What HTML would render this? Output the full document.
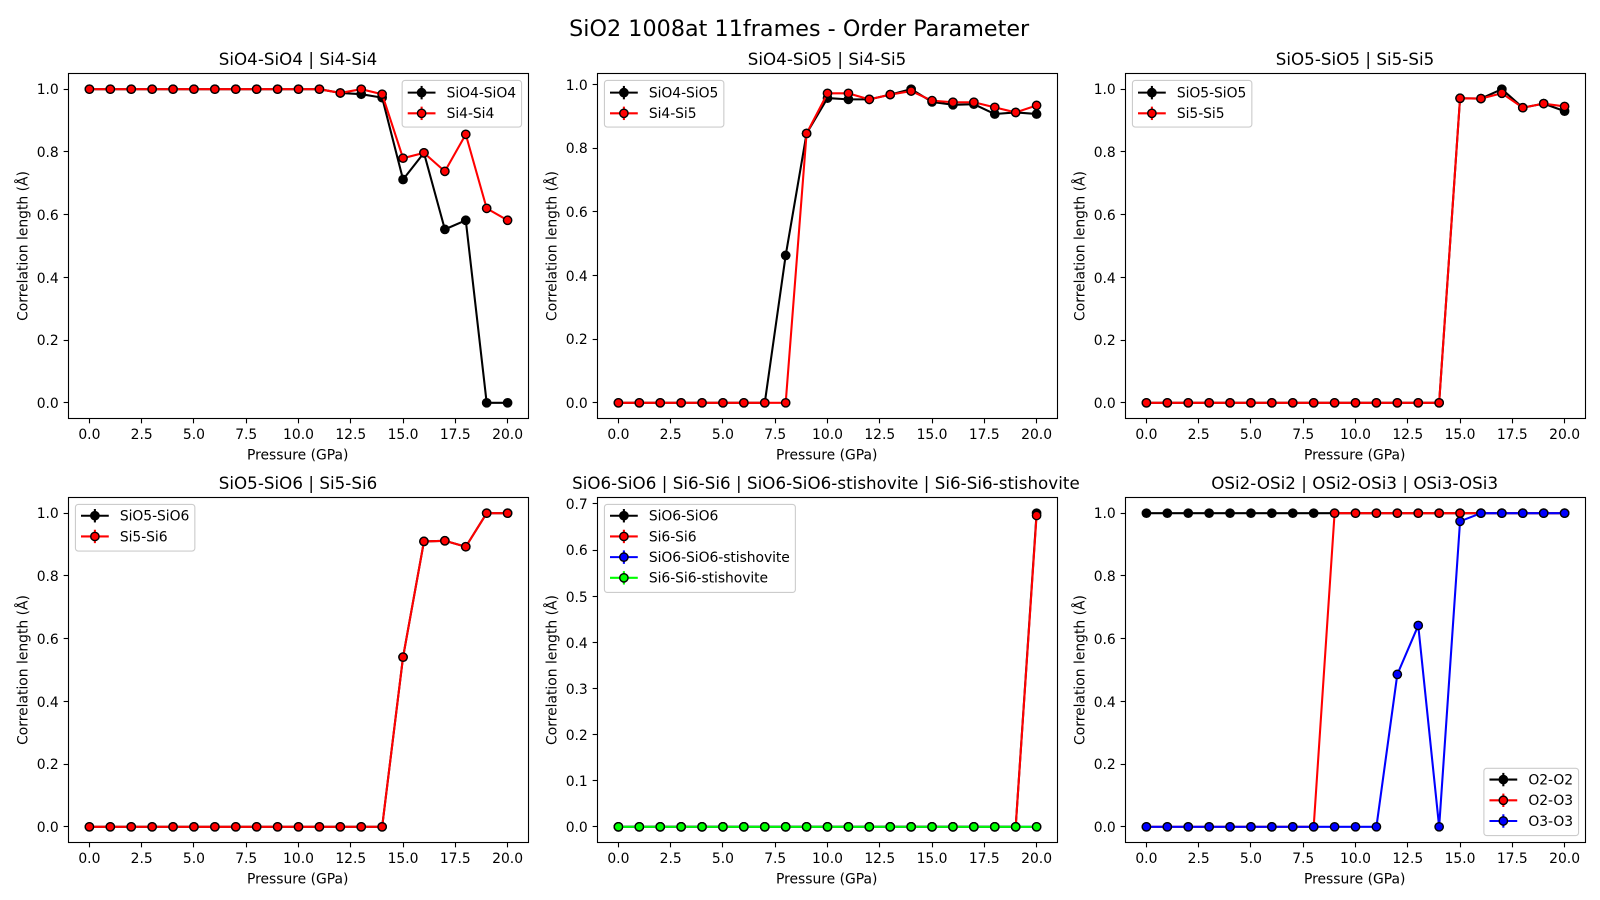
<!DOCTYPE html>
<html lang="en">
<head>
<meta charset="utf-8">
<title>SiO2 1008at 11frames - Order Parameter</title>
<style>
  html, body { margin: 0; padding: 0; background: #fff; }
  #figure { display: block; width: 1600px; height: 900px; background: #fff; }
  text { font-family: "DejaVu Sans", "Liberation Sans", sans-serif; fill: #000; }
</style>
</head>
<body>
<svg id="figure" xmlns="http://www.w3.org/2000/svg" width="1600" height="900" viewBox="0 0 1600 900">
  <text x="799.2" y="36" text-anchor="middle" font-size="22.22" letter-spacing="0.04">SiO2 1008at 11frames - Order Parameter</text>
</svg>
<script>
// ---- Shared axis data ----
const pressure = [0,1,2,3,4,5,6,7,8,9,10,11,12,13,14,15,16,17,18,19,20];
const xTicks = [0,2.5,5,7.5,10,12.5,15,17.5,20];
const xTickLabels = ['0.0','2.5','5.0','7.5','10.0','12.5','15.0','17.5','20.0'];
const yTicksUnit = [0,0.2,0.4,0.6,0.8,1.0];
const yTickLabelsUnit = ['0.0','0.2','0.4','0.6','0.8','1.0'];
const yTicksSi6 = [0,0.1,0.2,0.3,0.4,0.5,0.6,0.7];
const yTickLabelsSi6 = ['0.0','0.1','0.2','0.3','0.4','0.5','0.6','0.7'];

// ---- Series values ----
const sio4Sio4 = [1,1,1,1,1,1,1,1,1,1,1,1,0.988,0.984,0.973,0.712,0.797,0.553,0.582,0,0];
const si4Si4 = [1,1,1,1,1,1,1,1,1,1,1,1,0.988,1,0.984,0.78,0.797,0.738,0.856,0.62,0.582];
const sio4Sio5 = [0,0,0,0,0,0,0,0,0.463,0.846,0.957,0.953,0.953,0.968,0.985,0.945,0.936,0.938,0.907,0.912,0.907];
const si4Si5 = [0,0,0,0,0,0,0,0,0,0.846,0.972,0.972,0.953,0.968,0.979,0.949,0.944,0.944,0.928,0.912,0.934];
const sio5Sio5 = [0,0,0,0,0,0,0,0,0,0,0,0,0,0,0,0.971,0.97,1,0.941,0.954,0.93];
const si5Si5 = [0,0,0,0,0,0,0,0,0,0,0,0,0,0,0,0.971,0.97,0.987,0.941,0.954,0.945];
const sio5Sio6 = [0,0,0,0,0,0,0,0,0,0,0,0,0,0,0,0.541,0.91,0.912,0.893,1,1];
const si5Si6 = [0,0,0,0,0,0,0,0,0,0,0,0,0,0,0,0.541,0.91,0.912,0.893,1,1];
const sio6Sio6 = [0,0,0,0,0,0,0,0,0,0,0,0,0,0,0,0,0,0,0,0,0.68];
const si6Si6 = [0,0,0,0,0,0,0,0,0,0,0,0,0,0,0,0,0,0,0,0,0.675];
const sio6Stishovite = [0,0,0,0,0,0,0,0,0,0,0,0,0,0,0,0,0,0,0,0,0];
const si6Stishovite = [0,0,0,0,0,0,0,0,0,0,0,0,0,0,0,0,0,0,0,0,0];
const o2O2 = [1,1,1,1,1,1,1,1,1,1,1,1,1,1,1,1,1,1,1,1,1];
const o2O3 = [0,0,0,0,0,0,0,0,0,1,1,1,1,1,1,1,1,1,1,1,1];
const o3O3 = [0,0,0,0,0,0,0,0,0,0,0,0,0.486,0.642,0,0.974,1,1,1,1,1];

const panelTitles = [
  'SiO4-SiO4 | Si4-Si4',
  'SiO4-SiO5 | Si4-Si5',
  'SiO5-SiO5 | Si5-Si5',
  'SiO5-SiO6 | Si5-Si6',
  'SiO6-SiO6 | Si6-Si6 | SiO6-SiO6-stishovite | Si6-Si6-stishovite',
  'OSi2-OSi2 | OSi2-OSi3 | OSi3-OSi3'
];
const panelLabels = [
  ['SiO4-SiO4','Si4-Si4'],
  ['SiO4-SiO5','Si4-Si5'],
  ['SiO5-SiO5','Si5-Si5'],
  ['SiO5-SiO6','Si5-Si6'],
  ['SiO6-SiO6','Si6-Si6','SiO6-SiO6-stishovite','Si6-Si6-stishovite'],
  ['O2-O2','O2-O3','O3-O3']
];
const panelValues = [
  [sio4Sio4, si4Si4],
  [sio4Sio5, si4Si5],
  [sio5Sio5, si5Si5],
  [sio5Sio6, si5Si6],
  [sio6Sio6, si6Si6, sio6Stishovite, si6Stishovite],
  [o2O2, o2O3, o3O3]
];
const seriesColors = ['#000000','#ff0000','#0000ff','#00ff00'];
const legendCorners = ['upper-right','upper-left','upper-left','upper-left','upper-left','lower-right'];

// ---- Layout ----
const SVG_NS = 'http://www.w3.org/2000/svg';
const figure = document.getElementById('figure');
const axLefts = [68.5, 597.5, 1125.5];
const axTops = [73.5, 497.5];
const AX_W = 460;
const AX_H = 345;
const FONT = 13.89;
const snap = v => Math.round(v - 0.5) + 0.5;

function make(tag, parent, attrs) {
  const el = document.createElementNS(SVG_NS, tag);
  for (const k in attrs) el.setAttribute(k, attrs[k]);
  parent.appendChild(el);
  return el;
}

function drawPanel(i) {
  const row = Math.floor(i / 3);
  const left = axLefts[i % 3];
  const top = axTops[row];
  const right = left + AX_W;
  const bottom = top + AX_H;
  const valuesList = panelValues[i];
  const labels = panelLabels[i];

  const allX = pressure;
  const allY = valuesList.flat();
  const xMin = Math.min(...allX), xMax = Math.max(...allX);
  const yMin = Math.min(...allY), yMax = Math.max(...allY);
  const xPad = (xMax - xMin) * 0.05, yPad = (yMax - yMin) * 0.05;
  const xScale = v => left + (v - (xMin - xPad)) / ((xMax + xPad) - (xMin - xPad)) * AX_W;
  const yScale = v => bottom - (v - (yMin - yPad)) / ((yMax + yPad) - (yMin - yPad)) * AX_H;

  const g = make('g', figure, {});
  
  

  const titleText = panelTitles[i];
  const title = make('text', g, { x: left + AX_W / 2 - titleText.length * 0.025, y: top - 8.33, 'text-anchor': 'middle', 'font-size': 16.67, 'letter-spacing': 0.05 });
  
  
  title.textContent = titleText;

  // series
  const plot = make('g', g, {});
  
  
  valuesList.forEach((vals, s) => {
    const color = seriesColors[s];
    const sg = make('g', plot, {});
    
    
    const pts = vals.map((v, k) => xScale(pressure[k]).toFixed(2) + ',' + yScale(v).toFixed(2)).join(' ');
    const line = make('polyline', sg, { points: pts, fill: 'none', stroke: color, 'stroke-width': 2.08, 'stroke-linejoin': 'round', 'stroke-linecap': 'square' });
    
    
    vals.forEach((v, k) => {
      const c = make('circle', sg, { cx: xScale(pressure[k]).toFixed(2), cy: yScale(v).toFixed(2), r: 4.17, fill: color, stroke: '#000', 'stroke-width': 1.39 });
      
      
    });
  });

  // ticks
  const tickG = make('g', g, {});
  
  
  xTicks.forEach((t, k) => {
    const x = snap(xScale(t));
    const tick = make('line', tickG, { x1: x, x2: x, y1: bottom, y2: bottom + 4.86, stroke: '#000', 'stroke-width': 1.11 });
    
    
    const lab = make('text', tickG, { x: xScale(t), y: bottom + 20.7, 'text-anchor': 'middle', 'font-size': FONT });
    
    
    lab.textContent = xTickLabels[k];
  });
  const yTickVals = i === 4 ? yTicksSi6 : yTicksUnit;
  const yTickLabs = i === 4 ? yTickLabelsSi6 : yTickLabelsUnit;
  yTickVals.forEach((t, k) => {
    const y = snap(yScale(t));
    const tick = make('line', tickG, { x1: left - 4.86, x2: left, y1: y, y2: y, stroke: '#000', 'stroke-width': 1.11 });
    
    
    const lab = make('text', tickG, { x: left - 9.72, y: Math.round(yScale(t) + 5.3), 'text-anchor': 'end', 'font-size': FONT });
    
    
    lab.textContent = yTickLabs[k];
  });

  // frame
  const frame = make('rect', g, { x: left, y: top, width: AX_W, height: AX_H, fill: 'none', stroke: '#000', 'stroke-width': 1.11 });
  
  

  // axis labels
  const xLabel = make('text', g, { x: left + AX_W / 2 - 0.8, y: bottom + 41, 'text-anchor': 'middle', 'font-size': FONT });
  
  
  xLabel.textContent = 'Pressure (GPa)';
  const yx = left - 41.2, yy = top + AX_H / 2;
  const yLabel = make('text', g, { x: yx, y: yy, 'text-anchor': 'middle', 'font-size': FONT, transform: 'rotate(-90 ' + yx + ' ' + yy + ')' });
  
  
  yLabel.textContent = 'Correlation length (Å)';

  // legend
  const legend = make('g', g, {});
  
  
  const box = make('rect', legend, { rx: 2.8, ry: 2.8, fill: 'rgba(255,255,255,0.8)', stroke: '#cccccc', 'stroke-width': 1.11 });
  
  
  const rowStep = 20.7;
  const firstRowOffset = row === 0 ? 12.2 : 11.3;
  const boxH = 5.56 * 2 + 14.75 + rowStep * (labels.length - 1);
  const entries = labels.map((label, s) => {
    const entry = make('g', legend, {});
    
    
    const text = make('text', entry, { 'font-size': FONT, 'letter-spacing': -0.05 });
    
    
    text.textContent = label;
    return { entry, text, s };
  });
  const textW = Math.max(...entries.map(e => e.text.getComputedTextLength()));
  const boxW = 5.56 * 2 + 27.78 + 11.11 + textW;
  const corner = legendCorners[i];
  const boxX = corner.endsWith('right') ? right - 6.94 - boxW : left + 6.94;
  const boxY = corner.startsWith('upper') ? top + 6.94 : bottom - 6.94 - boxH;
  box.setAttribute('x', boxX);
  box.setAttribute('y', boxY);
  box.setAttribute('width', boxW);
  box.setAttribute('height', boxH);
  entries.forEach(e => {
    const cy = boxY + firstRowOffset + rowStep * e.s;
    const hx0 = boxX + 5.56, hx1 = hx0 + 27.78, hxm = (hx0 + hx1) / 2;
    const color = seriesColors[e.s];
    const hl = make('line', e.entry, { x1: hx0, x2: hx1, y1: cy, y2: cy, stroke: color, 'stroke-width': 2.08 });
    
    
    const he = make('line', e.entry, { x1: hxm, x2: hxm, y1: cy - 6.7, y2: cy + 6.7, stroke: color, 'stroke-width': 2.08 });
    
    
    const hm = make('circle', e.entry, { cx: hxm, cy: cy, r: 4.17, fill: color, stroke: '#000', 'stroke-width': 1.39 });
    
    
    e.text.setAttribute('x', hx1 + 11.11);
    e.text.setAttribute('y', cy + 4.9);
    e.entry.appendChild(e.text);
  });
}

panelTitles.forEach((_, i) => drawPanel(i));
</script>
</body>
</html>
